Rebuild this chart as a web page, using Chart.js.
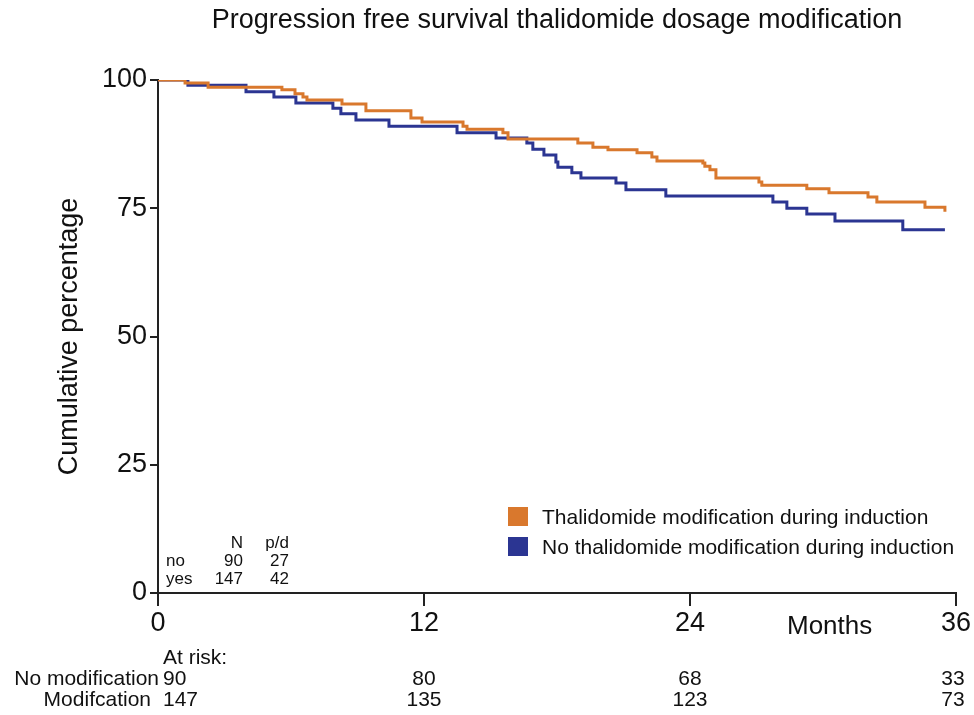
<!DOCTYPE html>
<html>
<head>
<meta charset="utf-8">
<script src="https://cdn.jsdelivr.net/npm/chart.js@4.4.1/dist/chart.umd.min.js"></script>
<style>
  html, body { margin: 0; padding: 0; background: #fff; }
  #wrap { width: 974px; height: 715px; position: relative; }
</style>
</head>
<body>
<div id="wrap"><canvas id="km"></canvas></div>
<script>
// Kaplan-Meier steps (months, cumulative %)
const modMonths = [0, 1.22, 2.26, 5.59, 6.18, 6.54, 6.72, 8.30, 9.38, 11.41, 11.91, 13.76, 13.94, 15.56, 15.79, 18.94, 19.62, 20.30, 21.61, 22.28, 22.51, 24.58, 24.67, 24.90, 25.17, 27.11, 27.24, 29.27, 30.27, 32.03, 32.43, 34.60, 35.50];
const modSurv = [100, 99.4, 98.6, 98.1, 97.3, 96.7, 96.1, 95.3, 94.0, 92.6, 91.8, 91.0, 90.4, 89.7, 88.5, 87.7, 86.9, 86.4, 85.8, 85.0, 84.2, 83.8, 83.2, 82.5, 80.9, 80.1, 79.5, 78.8, 78.0, 77.2, 76.2, 75.2, 74.3];

const noModMonths = [0, 1.35, 3.97, 5.23, 6.22, 7.89, 8.25, 8.93, 10.42, 13.49, 15.25, 16.64, 16.91, 17.41, 17.95, 18.04, 18.67, 19.08, 20.66, 21.11, 22.91, 27.74, 28.37, 29.27, 30.54, 33.60, 35.50];
const noModSurv = [100, 99.0, 97.7, 96.7, 95.5, 94.5, 93.4, 92.2, 91.0, 89.7, 88.7, 87.7, 86.5, 85.4, 84.0, 83.0, 81.9, 80.9, 79.9, 78.6, 77.4, 76.2, 75.0, 73.9, 72.5, 70.8, 70.8];

const seriesLabels = ['Thalidomide modification during induction', 'No thalidomide modification during induction'];
const xTicks = [0, 12, 24, 36];
const yTicks = [0, 25, 50, 75, 100];

// small summary table
const groupNames = ['no', 'yes'];
const groupN = [90, 147];
const groupPD = [27, 42];

// numbers at risk
const riskTimes = [0, 12, 24, 36];
const riskRowNames = ['No modification', 'Modifcation'];
const riskNoMod = [90, 80, 68, 33];
const riskMod = [147, 135, 123, 73];

const FONT = "'Liberation Sans', Arial, sans-serif";
const ORANGE = '#d9782d';
const BLUE = '#2b3592';

const toPoints = (xs, ys) => xs.map((x, i) => ({ x: x, y: ys[i] }));

const extras = {
  id: 'extras',
  afterDraw(chart) {
    const { ctx, chartArea, scales } = chart;
    const xs = scales.x;
    ctx.save();
    ctx.fillStyle = '#111';

    // title
    ctx.font = '27px ' + FONT;
    ctx.textAlign = 'center';
    ctx.textBaseline = 'middle';
    ctx.fillText('Progression free survival thalidomide dosage modification', (chartArea.left + chartArea.right) / 2, 21);

    // y title
    ctx.save();
    ctx.translate(70, (chartArea.top + chartArea.bottom) / 2);
    ctx.rotate(-Math.PI / 2);
    ctx.fillText('Cumulative percentage', 0, 0);
    ctx.restore();

    // x unit
    ctx.font = '26px ' + FONT;
    ctx.textAlign = 'left';
    ctx.fillText('Months', 787, 627);

    // legend
    ctx.font = '21px ' + FONT;
    chart.data.datasets.forEach((ds, i) => {
      const y = 507 + i * 30;
      ctx.fillStyle = ds.borderColor;
      ctx.fillRect(508, y, 20, 19);
      ctx.fillStyle = '#111';
      ctx.fillText(ds.label, 542, y + 11);
    });

    // summary table
    ctx.font = '17px ' + FONT;
    ctx.textAlign = 'right';
    ctx.fillText('N', 243, 543);
    ctx.fillText('p/d', 289, 543);
    groupNames.forEach((g, i) => {
      const y = 561 + i * 18;
      ctx.textAlign = 'left';
      ctx.fillText(g, 166, y);
      ctx.textAlign = 'right';
      ctx.fillText(String(groupN[i]), 243, y);
      ctx.fillText(String(groupPD[i]), 289, y);
    });

    // at risk
    ctx.font = '21px ' + FONT;
    ctx.textAlign = 'left';
    ctx.fillText('At risk:', 163, 658);
    [riskNoMod, riskMod].forEach((row, r) => {
      const y = 679 + r * 21;
      ctx.textAlign = 'right';
      ctx.fillText(riskRowNames[r], r === 0 ? 159 : 151, y);
      row.forEach((v, i) => {
        const px = xs.getPixelForValue(riskTimes[i]);
        if (i === 0) {
          ctx.textAlign = 'left';
          ctx.fillText(String(v), px + 5, y);
        } else {
          ctx.textAlign = 'center';
          ctx.fillText(String(v), i === riskTimes.length - 1 ? px - 3 : px, y);
        }
      });
    });
    ctx.restore();
  }
};

new Chart(document.getElementById('km'), {
  type: 'line',
  data: {
    datasets: [
      {
        label: seriesLabels[0],
        data: toPoints(modMonths, modSurv),
        borderColor: ORANGE,
        borderWidth: 3,
        pointRadius: 0,
        stepped: true,
        fill: false
      },
      {
        label: seriesLabels[1],
        data: toPoints(noModMonths, noModSurv),
        borderColor: BLUE,
        borderWidth: 3,
        pointRadius: 0,
        stepped: true,
        fill: false
      }
    ]
  },
  options: {
    responsive: true,
    maintainAspectRatio: false,
    animation: false,
    layout: { padding: { left: 0, right: 18, top: 80, bottom: 0 } },
    plugins: {
      legend: { display: false },
      tooltip: { enabled: false },
      title: { display: false }
    },
    scales: {
      x: {
        type: 'linear',
        min: 0,
        max: 36,
        afterFit: (axis) => { axis.height = 122; },
        afterBuildTicks: (axis) => { axis.ticks = xTicks.map(v => ({ value: v })); },
        border: { display: true, color: '#222', width: 2 },
        grid: { drawOnChartArea: false, drawTicks: true, tickLength: 13, tickColor: '#222', lineWidth: 2 },
        ticks: { color: '#111', padding: 1, maxRotation: 0, font: { family: FONT, size: 27 } }
      },
      y: {
        min: 0,
        max: 100,
        afterFit: (axis) => { axis.width = 158; },
        afterBuildTicks: (axis) => { axis.ticks = yTicks.map(v => ({ value: v })); },
        border: { display: true, color: '#222', width: 2 },
        grid: { drawOnChartArea: false, drawTicks: true, tickLength: 8, tickColor: '#222', lineWidth: 2 },
        ticks: { color: '#111', padding: 3, font: { family: FONT, size: 27 } }
      }
    }
  },
  plugins: [extras]
});
</script>
</body>
</html>
